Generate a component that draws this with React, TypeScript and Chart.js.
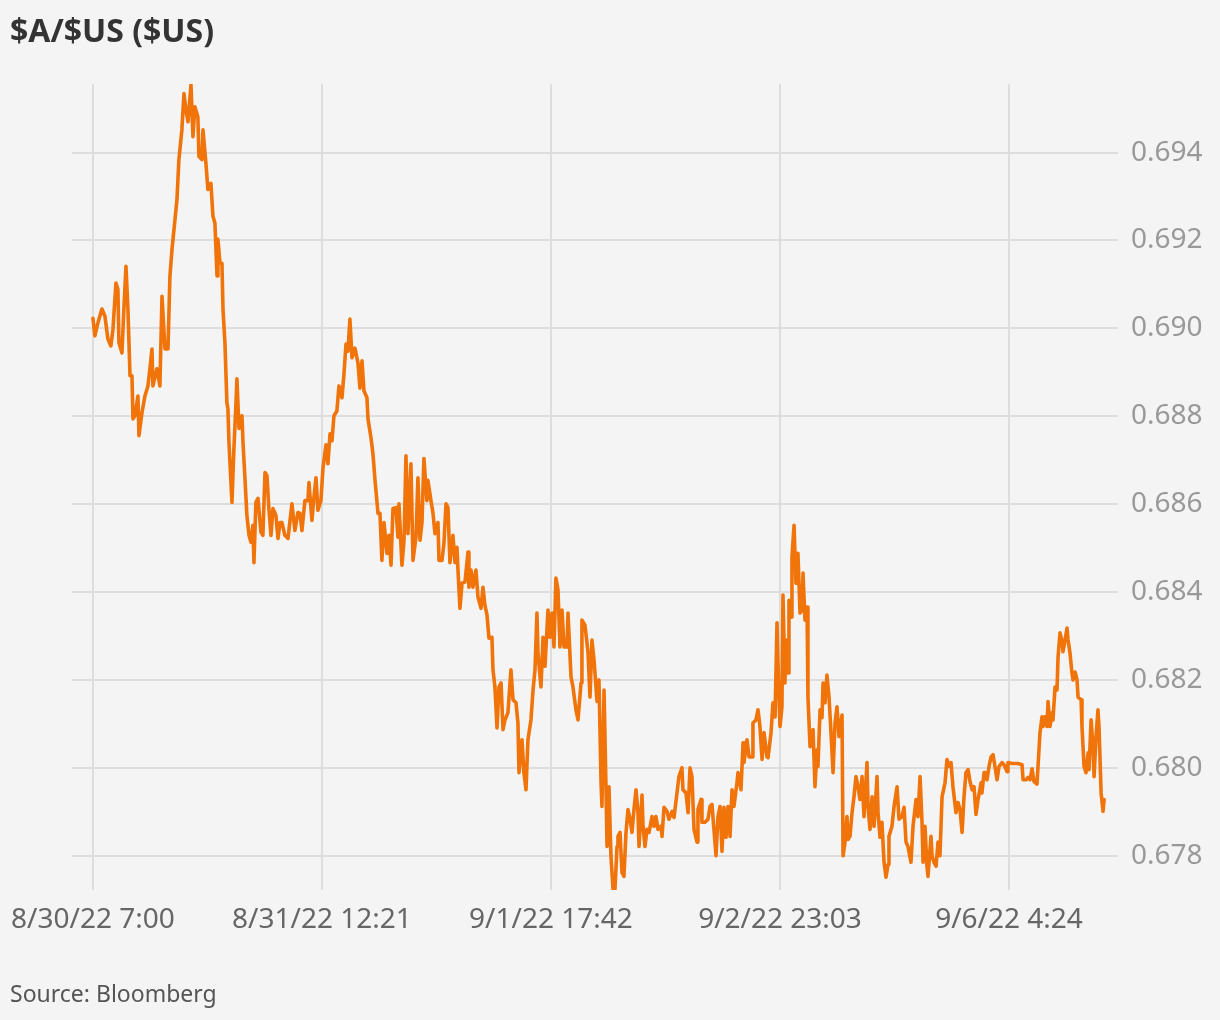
import React, { useEffect, useRef } from "react";
import { Chart, registerables } from "chart.js";

Chart.register(...registerables);

// Trading minutes since 8/30/22 7:00 (weekend removed)
const tradingMinutes = [
  0, 15, 38, 69, 92, 115, 138, 154, 177, 192, 200, 223, 238, 254, 269, 285, 300, 308, 323, 346,
  354, 377, 400, 423, 438, 454, 461, 492, 515, 531, 554, 577, 592, 608, 631, 646, 661, 684, 700, 715,
  731, 754, 769, 784, 807, 815, 838, 846, 869, 884, 907, 923, 938, 954, 961, 977, 992, 1000, 1015, 1030,
  1038, 1046, 1069, 1084, 1100, 1107, 1123, 1146, 1154, 1169, 1184, 1200, 1215, 1230, 1238, 1253, 1269, 1292, 1307, 1323,
  1338, 1353, 1369, 1384, 1407, 1423, 1438, 1453, 1476, 1500, 1530, 1553, 1576, 1592, 1607, 1630, 1653, 1661, 1684, 1699,
  1715, 1730, 1753, 1769, 1792, 1807, 1823, 1838, 1853, 1876, 1892, 1915, 1930, 1946, 1961, 1976, 1992, 2015, 2038, 2053,
  2069, 2084, 2107, 2115, 2138, 2153, 2169, 2192, 2207, 2222, 2238, 2261, 2276, 2292, 2307, 2330, 2345, 2353, 2376, 2392,
  2407, 2422, 2445, 2461, 2484, 2499, 2515, 2530, 2545, 2568, 2576, 2599, 2615, 2630, 2653, 2661, 2684, 2699, 2715, 2730,
  2745, 2768, 2784, 2799, 2807, 2822, 2838, 2861, 2884, 2891, 2907, 2922, 2945, 2961, 2984, 2999, 3014, 3030, 3045, 3068,
  3076, 3091, 3107, 3122, 3138, 3153, 3168, 3191, 3214, 3230, 3253, 3268, 3276, 3299, 3314, 3330, 3345, 3368, 3384, 3399,
  3414, 3422, 3445, 3461, 3476, 3499, 3514, 3530, 3545, 3560, 3576, 3591, 3607, 3622, 3645, 3653, 3676, 3691, 3714, 3730,
  3753, 3760, 3783, 3799, 3807, 3822, 3837, 3853, 3876, 3891, 3907, 3914, 3930, 3945, 3953, 3968, 3983, 3999, 4014, 4030,
  4037, 4053, 4068, 4083, 4099, 4114, 4130, 4145, 4160, 4176, 4191, 4199, 4222, 4230, 4245, 4260, 4276, 4299, 4314, 4329,
  4345, 4368, 4376, 4391, 4414, 4429, 4453, 4468, 4491, 4506, 4529, 4537, 4560, 4576, 4591, 4606, 4622, 4645, 4652, 4676,
  4683, 4706, 4729, 4745, 4760, 4775, 4791, 4806, 4822, 4837, 4852, 4868, 4883, 4899, 4914, 4929, 4952, 4960, 4983, 4999,
  5006, 5029, 5045, 5068, 5075, 5098, 5114, 5129, 5145, 5160, 5183, 5191, 5214, 5229, 5245, 5260, 5268, 5283, 5298, 5306,
  5321, 5329, 5345, 5352, 5368, 5375, 5391, 5406, 5421, 5437, 5452, 5460, 5475, 5491, 5498, 5514, 5529, 5537, 5552, 5568,
  5575, 5591, 5606, 5614, 5629, 5644, 5660, 5675, 5691, 5706, 5721, 5737, 5760, 5768, 5783, 5798, 5806, 5821, 5837, 5852,
  5867, 5883, 5898, 5914, 5929, 5952, 5960, 5975, 5991, 6006, 6029, 6037, 6052, 6067, 6083, 6098, 6114, 6121, 6144, 6160,
  6183, 6198, 6221, 6237, 6252, 6267, 6290, 6306, 6329, 6344, 6360, 6375, 6383, 6398, 6413, 6421, 6444, 6452, 6467, 6483,
  6498, 6513, 6529, 6552, 6567, 6583, 6598, 6613, 6636, 6652, 6667, 6683, 6698, 6713, 6729, 6744, 6760, 6775, 6790, 6806,
  6829, 6836, 6852, 6859, 6875, 6890, 6906, 6921, 6936, 6952, 6967, 6990, 7006, 7029, 7036, 7067, 7090, 7113, 7144, 7152,
  7175, 7190, 7206, 7221, 7236, 7259, 7267, 7282, 7298, 7306, 7321, 7336, 7344, 7359, 7375, 7382, 7398, 7413, 7421, 7436,
  7452, 7459, 7475, 7490, 7498, 7513, 7528, 7536, 7552, 7567, 7575, 7598, 7605, 7621, 7636, 7652, 7659, 7675, 7690, 7698,
  7713, 7728, 7736, 7752, 7767, 7775,
];

// $A/$US exchange rate
const audUsd = [
  0.69023, 0.68983, 0.69012, 0.69044, 0.69028, 0.68976, 0.6896, 0.68998, 0.69103, 0.69089, 0.68967, 0.68944, 0.69044, 0.69141, 0.69044, 0.68892, 0.68892, 0.68794, 0.68801, 0.68846,
  0.68756, 0.68808, 0.68846, 0.68869, 0.68908, 0.68953, 0.68869, 0.68908, 0.68869, 0.69073, 0.68953, 0.68953, 0.69119, 0.6918, 0.69248, 0.69293, 0.69384, 0.69452, 0.69534, 0.69497,
  0.6947, 0.69554, 0.69436, 0.69504, 0.69481, 0.69391, 0.69384, 0.69452, 0.69375, 0.69316, 0.6933, 0.69255, 0.69239, 0.69119, 0.69203, 0.69148, 0.69148, 0.69044, 0.68967, 0.68831,
  0.68817, 0.6874, 0.68604, 0.68726, 0.68831, 0.68885, 0.68772, 0.68801, 0.6874, 0.68658, 0.68574, 0.68529, 0.68513, 0.68552, 0.68467, 0.68604, 0.68613, 0.68536, 0.68529, 0.68672,
  0.68665, 0.6859, 0.68529, 0.6859, 0.68574, 0.68522, 0.68558, 0.68558, 0.68529, 0.68522, 0.68601, 0.6854, 0.68581, 0.68579, 0.6854, 0.68608, 0.68608, 0.68649, 0.68563, 0.68615,
  0.6866, 0.68586, 0.68608, 0.68683, 0.68735, 0.68692, 0.6876, 0.68744, 0.68801, 0.68812, 0.68869, 0.68842, 0.68896, 0.68964, 0.68948, 0.69021, 0.68933, 0.68955, 0.68921, 0.68864,
  0.68926, 0.68858, 0.68842, 0.68794, 0.68751, 0.68715, 0.68654, 0.68579, 0.68579, 0.68472, 0.68558, 0.68488, 0.68529, 0.68461, 0.6859, 0.68592, 0.68525, 0.68601, 0.68461, 0.68518,
  0.6871, 0.68533, 0.68692, 0.68472, 0.68525, 0.6866, 0.68518, 0.68558, 0.68704, 0.68608, 0.68654, 0.68608, 0.68579, 0.68533, 0.68558, 0.68472, 0.68472, 0.68511, 0.68601, 0.68592,
  0.68467, 0.68529, 0.68467, 0.68502, 0.6845, 0.68363, 0.6842, 0.68423, 0.68491, 0.68411, 0.6845, 0.68411, 0.6845, 0.68388, 0.68363, 0.68411, 0.6837, 0.68348, 0.68295, 0.68297,
  0.68223, 0.68184, 0.68091, 0.68184, 0.68193, 0.68087, 0.68109, 0.68125, 0.68223, 0.68155, 0.68148, 0.68102, 0.67989, 0.68064, 0.67989, 0.6795, 0.68064, 0.68109, 0.68177, 0.68223,
  0.68352, 0.68261, 0.68184, 0.68297, 0.68231, 0.68359, 0.68297, 0.68352, 0.68275, 0.68432, 0.68405, 0.68275, 0.68359, 0.68275, 0.68275, 0.68352, 0.68207, 0.68184, 0.68132, 0.68109,
  0.68193, 0.68336, 0.68325, 0.68284, 0.68261, 0.68161, 0.68291, 0.68245, 0.68151, 0.682, 0.67966, 0.67912, 0.68177, 0.67957, 0.67821, 0.67957, 0.678, 0.67724, 0.67724, 0.67821,
  0.67844, 0.67853, 0.67762, 0.67753, 0.67853, 0.67905, 0.67883, 0.67853, 0.67905, 0.6795, 0.67898, 0.67821, 0.67938, 0.67867, 0.67821, 0.6786, 0.67853, 0.67889, 0.67867, 0.67889,
  0.6786, 0.67867, 0.67844, 0.6791, 0.67901, 0.67883, 0.67901, 0.67887, 0.67943, 0.6798, 0.68, 0.6795, 0.67943, 0.67898, 0.68, 0.6798, 0.6786, 0.67831, 0.67905, 0.67928,
  0.67876, 0.67876, 0.67883, 0.67912, 0.67917, 0.6786, 0.678, 0.67889, 0.67912, 0.6781, 0.6791, 0.67842, 0.67912, 0.67844, 0.6795, 0.67912, 0.67966, 0.67989, 0.6795, 0.68057,
  0.68012, 0.68064, 0.68025, 0.68025, 0.68102, 0.68109, 0.68132, 0.68094, 0.68019, 0.6808, 0.68025, 0.68023, 0.6808, 0.68148, 0.68116, 0.6833, 0.68231, 0.68094, 0.68139, 0.68393,
  0.68193, 0.68291, 0.68216, 0.68381, 0.68343, 0.68479, 0.68552, 0.6842, 0.68488, 0.68352, 0.68359, 0.68443, 0.68336, 0.68366, 0.68161, 0.68048, 0.68057, 0.68087, 0.67957, 0.68041,
  0.68003, 0.68132, 0.68114, 0.68193, 0.68148, 0.68211, 0.68161, 0.6808, 0.67989, 0.68102, 0.68139, 0.68071, 0.6812, 0.678, 0.67831, 0.67889, 0.67837, 0.67844, 0.67898, 0.67934,
  0.6798, 0.67957, 0.67928, 0.6798, 0.67889, 0.68012, 0.67912, 0.6786, 0.67934, 0.67867, 0.6798, 0.67898, 0.67842, 0.67876, 0.67785, 0.67751, 0.6778, 0.67844, 0.67867, 0.67912,
  0.67957, 0.67883, 0.67889, 0.6791, 0.67831, 0.67821, 0.67785, 0.67867, 0.67928, 0.67889, 0.6798, 0.67876, 0.67785, 0.67867, 0.67776, 0.67753, 0.67844, 0.678, 0.67785, 0.67776,
  0.67831, 0.678, 0.67934, 0.67966, 0.68019, 0.68003, 0.68012, 0.67957, 0.67898, 0.67921, 0.67905, 0.67853, 0.67934, 0.67989, 0.67996, 0.67969, 0.6795, 0.67957, 0.67894, 0.67928,
  0.67966, 0.67943, 0.67989, 0.6798, 0.67973, 0.68003, 0.68025, 0.6803, 0.68003, 0.67973, 0.68003, 0.68012, 0.68007, 0.67991, 0.68012, 0.6801, 0.6801, 0.6801, 0.68007, 0.67973,
  0.67973, 0.67978, 0.67973, 0.67998, 0.67969, 0.67963, 0.68003, 0.6808, 0.68116, 0.68094, 0.68116, 0.68094, 0.68151, 0.68094, 0.68125, 0.68109, 0.68184, 0.68177, 0.68252, 0.68307,
  0.68287, 0.68264, 0.68291, 0.68318, 0.68291, 0.68261, 0.68216, 0.682, 0.68218, 0.682, 0.68161, 0.68155, 0.68094, 0.68003, 0.67989, 0.68034, 0.67996, 0.68109, 0.68048, 0.6798,
  0.68071, 0.68132, 0.68094, 0.67943, 0.67901, 0.67928,
];

const xTickMinutes = [0, 1761, 3522, 5283, 7044];
const xTickLabels = ["8/30/22 7:00", "8/31/22 12:21", "9/1/22 17:42", "9/2/22 23:03", "9/6/22 4:24"];
const yTickValues = [0.678, 0.68, 0.682, 0.684, 0.686, 0.688, 0.69, 0.692, 0.694];

const FONT = "'Noto Sans', 'Open Sans', sans-serif";

export default function App() {
  const canvasRef = useRef<HTMLCanvasElement>(null);

  useEffect(() => {
    document.body.style.margin = "0";
    document.body.style.background = "#f4f4f4";
    const points = tradingMinutes.map((m, i) => ({ x: m, y: audUsd[i] }));
    const chart = new Chart(canvasRef.current as HTMLCanvasElement, {
      type: "line",
      data: {
        datasets: [
          {
            data: points,
            borderColor: "#f0740a",
            borderWidth: 3.6,
            pointRadius: 0,
            tension: 0,
            borderJoinStyle: "round",
            borderCapStyle: "round",
          },
        ],
      },
      options: {
        animation: false,
        responsive: false,
        maintainAspectRatio: false,
        layout: { autoPadding: false, padding: { left: 72, top: 84, right: 0, bottom: 70 } },
        plugins: { legend: { display: false }, tooltip: { enabled: false }, title: { display: false } },
        scales: {
          x: {
            type: "linear",
            min: -161,
            max: 7882,
            afterBuildTicks: (scale: any) => {
              scale.ticks = xTickMinutes.map((v) => ({ value: v }));
            },
            afterFit: (scale: any) => {
              scale.height = 60;
              scale.paddingLeft = 0;
              scale.paddingRight = 0;
            },
            ticks: {
              autoSkip: false,
              maxRotation: 0,
              padding: 13,
              color: "#666666",
              font: { family: FONT, size: 28 },
              callback: (value: any) => {
                const idx = xTickMinutes.indexOf(Number(value));
                return idx >= 0 ? xTickLabels[idx] : "";
              },
            },
            grid: { color: "#dddddd", lineWidth: 2, drawTicks: false },
            border: { display: false },
          },
          y: {
            type: "linear",
            position: "right",
            min: 0.67722,
            max: 0.69556,
            afterBuildTicks: (scale: any) => {
              scale.ticks = yTickValues.map((v) => ({ value: v }));
            },
            afterFit: (scale: any) => {
              scale.width = 102;
              scale.paddingTop = 0;
              scale.paddingBottom = 0;
            },
            ticks: {
              padding: 13,
              color: "#999999",
              font: { family: FONT, size: 28 },
              callback: (value: any) => Number(value).toFixed(3),
            },
            grid: { color: "#dddddd", lineWidth: 2, drawTicks: false },
            border: { display: false },
          },
        },
      },
    });
    return () => chart.destroy();
  }, []);

  return (
    <div style={{ position: "relative", width: 1220, height: 1020, background: "#f4f4f4", fontFamily: FONT, overflow: "hidden" }}>
      <canvas ref={canvasRef} width={1220} height={1020} style={{ position: "absolute", left: 0, top: 0, width: 1220, height: 1020 }} />
      <div style={{ position: "absolute", left: 10, top: 8, fontSize: 32, fontWeight: 700, color: "#333333", whiteSpace: "nowrap" }}>
        $A/$US ($US)
      </div>
      <div style={{ position: "absolute", left: 10, top: 977, fontSize: 23, color: "#555555", whiteSpace: "nowrap" }}>
        Source: Bloomberg
      </div>
    </div>
  );
}
